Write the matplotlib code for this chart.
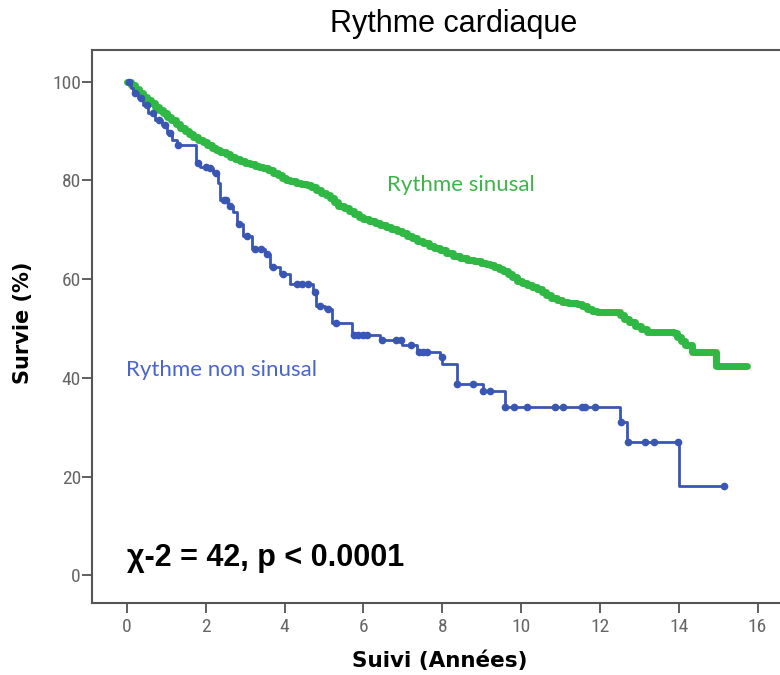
import matplotlib
matplotlib.use("Agg")
import matplotlib.pyplot as plt
import numpy as np

# Survival curves (time in years, survival in %)
sinus_t = [0, 0.1, 0.2, 0.3, 0.41, 0.5, 0.6, 0.7, 0.8, 0.9, 1.01, 1.12, 1.24, 1.35, 1.46,
           1.57, 1.68, 1.8, 1.92, 2.04, 2.15, 2.26, 2.36, 2.5, 2.62, 2.75, 2.87, 3.0, 3.12,
           3.24, 3.35, 3.46, 3.58, 3.7, 3.82, 3.94, 4.04, 4.14, 4.28, 4.42, 4.56, 4.68, 4.8,
           4.92, 5.04, 5.15, 5.26, 5.36, 5.5, 5.62, 5.75, 5.88, 6.0, 6.14, 6.28, 6.42, 6.56,
           6.7, 6.85, 6.98, 7.1, 7.22, 7.35, 7.5, 7.65, 7.8, 7.95, 8.1, 8.28, 8.45, 8.62, 8.8,
           8.98, 9.1, 9.21, 9.32, 9.44, 9.55, 9.66, 9.78, 9.89, 10.02, 10.15, 10.28, 10.4,
           10.52, 10.64, 10.77, 10.9, 11.05, 11.2, 11.41, 11.55, 11.68, 11.8, 11.92, 12.5,
           12.6, 12.75, 12.9, 13.05, 13.19, 13.87, 13.95, 14.05, 14.16, 14.33, 14.95, 15.73]
sinus_s = [100, 99.3, 98.5, 97.7, 96.9, 96.3, 95.6, 94.9, 94.2, 93.6, 92.9, 92.2, 91.4, 90.6,
           89.9, 89.3, 88.7, 88.2, 87.7, 87.1, 86.6, 86.2, 85.8, 85.3, 84.8, 84.3, 83.9, 83.6,
           83.3, 83.0, 82.8, 82.5, 82.0, 81.5, 81.0, 80.5, 80.1, 79.8, 79.5, 79.3, 79.1, 78.6,
           78.0, 77.4, 77.0, 76.5, 75.6, 74.8, 74.3, 73.7, 73.1, 72.6, 72.1, 71.7, 71.3, 70.9,
           70.5, 70.1, 69.8, 69.3, 68.8, 68.3, 67.8, 67.3, 66.8, 66.3, 65.8, 65.3, 64.7, 64.3,
           63.9, 63.6, 63.3, 63.1, 62.9, 62.5, 62.1, 61.7, 61.0, 60.4, 59.7, 59.3, 58.9, 58.4,
           58.0, 57.4, 56.8, 56.2, 55.7, 55.4, 55.2, 55.0, 54.5, 54.0, 53.6, 53.3, 52.7, 52.0,
           51.3, 50.6, 49.9, 49.3, 49.0, 48.3, 47.5, 46.6, 45.3, 42.3, 42.3]

nonsinus_t = [0, 0.1, 0.16, 0.29, 0.41, 0.54, 0.71, 0.88, 1.01, 1.13, 1.26, 1.74, 1.85, 2.06,
              2.19, 2.32, 2.36, 2.57, 2.7, 2.78, 2.95, 3.16, 3.5, 3.63, 3.88, 4.14, 4.73, 4.8,
              5.03, 5.2, 5.7, 6.42, 6.97, 7.35, 7.94, 8.0, 8.37, 9.04, 9.59, 12.52, 12.68, 14.0, 15.15]
nonsinus_s = [100, 98.8, 97.6, 96.6, 95.2, 93.6, 92.2, 91.2, 89.5, 88.2, 87.2, 83.5, 82.8, 82.5,
              81.5, 79.5, 76.1, 74.8, 73.5, 71.1, 68.8, 66.1, 65.1, 62.4, 61.0, 59.0, 57.3, 54.5,
              54.0, 51.2, 48.6, 47.6, 46.6, 45.3, 44.3, 42.9, 38.7, 37.4, 34.0, 31.0, 27.0, 18.1, 18.1]
# censored observations (dots on the curve)
nonsinus_cens = [0.05, 0.2, 0.35, 0.5, 0.65, 0.8, 0.95, 1.1, 1.3, 1.8, 2.0, 2.1, 2.25, 2.45,
                 2.5, 2.62, 2.85, 3.05, 3.25, 3.4, 3.55, 3.7, 3.95, 4.3, 4.45, 4.6, 4.78, 4.9,
                 5.1, 5.3, 5.75, 5.85, 6.0, 6.1, 6.47, 6.83, 6.94, 7.2, 7.4, 7.5, 7.6, 7.98,
                 8.38, 8.77, 9.04, 9.2, 9.59, 9.82, 10.14, 10.86, 11.06, 11.54, 11.62, 11.88,
                 12.53, 12.71, 13.15, 13.36, 13.99, 15.15]

x_ticks = [0, 2, 4, 6, 8, 10, 12, 14, 16]
y_ticks = [0, 20, 40, 60, 80, 100]

green = "#2fb844"
blue = "#3a56b4"


def step_value(t_list, s_list, t):
    idx = np.searchsorted(t_list, t, side="right") - 1
    return np.array(s_list)[idx]


fig = plt.figure(figsize=(7.8, 6.75), dpi=100)
ax = fig.add_axes([92 / 780, 72 / 675, 1 - 92 / 780, (603 - 50) / 675])

ax.step(sinus_t, sinus_s, where="post", color=green, lw=5, solid_joinstyle="round",
        solid_capstyle="round")
ax.step(nonsinus_t, nonsinus_s, where="post", color=blue, lw=2)
ax.plot(nonsinus_cens, step_value(nonsinus_t, nonsinus_s, nonsinus_cens), "o",
        color=blue, ms=4.5, mec=blue)

ax.set_xlim(-0.89, 16.57)
ax.set_ylim(-5.6, 106.4)
ax.set_xticks(x_ticks)
ax.set_yticks(y_ticks)
for lbl in ax.get_xticklabels() + ax.get_yticklabels():
    lbl.set_family("Roboto Condensed")
    lbl.set_fontsize(14)
    lbl.set_color("#666666")
ax.tick_params(axis="x", length=7, width=1.2, color="#444444", pad=4)
ax.tick_params(axis="y", length=7, width=1.2, color="#444444", pad=1)
ax.spines["right"].set_visible(False)
for s in ["left", "bottom", "top"]:
    ax.spines[s].set_color("#555555")
    ax.spines[s].set_linewidth(1.5)

ax.set_xlabel("Suivi (Années)", fontsize=15.5, fontweight="bold", family="DejaVu Sans")
ax.set_ylabel("Survie (%)", fontsize=15, fontweight="bold", family="DejaVu Sans")
ax.xaxis.set_label_coords(0.506, -0.086)
ax.yaxis.set_label_coords(-0.086, 0.506)
fig.text(454 / 780, 1 - 24 / 675, "Rythme cardiaque", ha="center", va="center",
         fontsize=22, family="Liberation Sans")

ax.text(6.6, 79.1, "Rythme sinusal", color="#3db54a", fontsize=16, family="Lato",
        va="center", ha="left")
ax.text(-0.03, 41.6, "Rythme non sinusal", color="#4a66cc", fontsize=16, family="Lato",
        va="center", ha="left")
ax.text(0.0, 3.6, "\u03c7-2 = 42, p < 0.0001", fontsize=22, fontweight="bold",
        family="Liberation Sans", va="center", ha="left")

fig.savefig("out.png", dpi=100)
